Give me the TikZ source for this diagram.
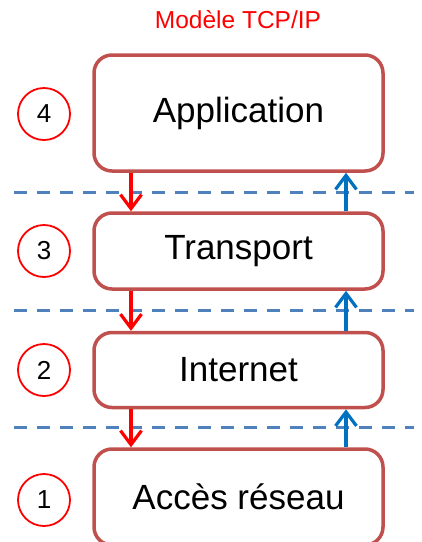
\documentclass[tikz,border=0pt]{standalone}
\usepackage{fontspec}
\setmainfont{Liberation Sans}
\usetikzlibrary{arrows.meta}
\definecolor{boxred}{HTML}{C0504D}
\definecolor{sepblue}{HTML}{4F81BD}
\definecolor{upblue}{HTML}{0070C0}

\begin{document}
\begin{tikzpicture}[x=1pt, y=-1pt,
    layer/.style={draw=boxred, line width=3.5pt, rounded corners=18pt, minimum width=289pt, inner sep=0pt, font=\fontsize{35}{40}\selectfont},
    num/.style={draw=red, circle, line width=1.8pt, minimum size=52pt, inner sep=0pt, font=\fontsize{26}{30}\selectfont},
    sep/.style={sepblue, line width=3pt, dash pattern=on 13pt off 10pt},
    down/.style={red, line width=3.2pt, -{Straight Barb[length=14pt,width=21pt]}},
    up/.style={upblue, line width=3.2pt, -{Straight Barb[length=14pt,width=21pt]}}]
    \clip (0,0) rectangle (422,542);
    % title
    \node[red, font=\fontsize{24.5}{28}\selectfont] (title) at (238,20) {Modèle TCP/IP};
    % layers
    \node[layer, minimum height=116pt] (app) at (238.5,113) {Application};
    \node[layer, minimum height=76pt] (trans) at (238.5,251) {Transport};
    \node[layer, minimum height=75pt] (net) at (238.5,370) {Internet};
    \node[layer, minimum height=96pt] (acc) at (238.5,497) {Accès réseau};
    % numbers
    \node[num] (n4) at (44,114) {4};
    \node[num] (n3) at (44,251) {3};
    \node[num] (n2) at (44,370) {2};
    \node[num] (n1) at (44,500) {1};
    % separators
    \draw[sep] (14,192) -- (414,192);
    \draw[sep] (14,310) -- (414,310);
    \draw[sep] (14,427) -- (414,427);
    % arrows
    \coordinate (dn) at (131,0);
    \coordinate (upx) at (346,0);
    \draw[down] (app.south -| dn) -- (trans.north -| dn);
    \draw[down] (trans.south -| dn) -- (net.north -| dn);
    \draw[down] (net.south -| dn) -- (acc.north -| dn);
    \draw[up] (trans.north -| upx) -- (app.south -| upx);
    \draw[up] (net.north -| upx) -- (trans.south -| upx);
    \draw[up] (acc.north -| upx) -- (net.south -| upx);
\end{tikzpicture}
\end{document}
